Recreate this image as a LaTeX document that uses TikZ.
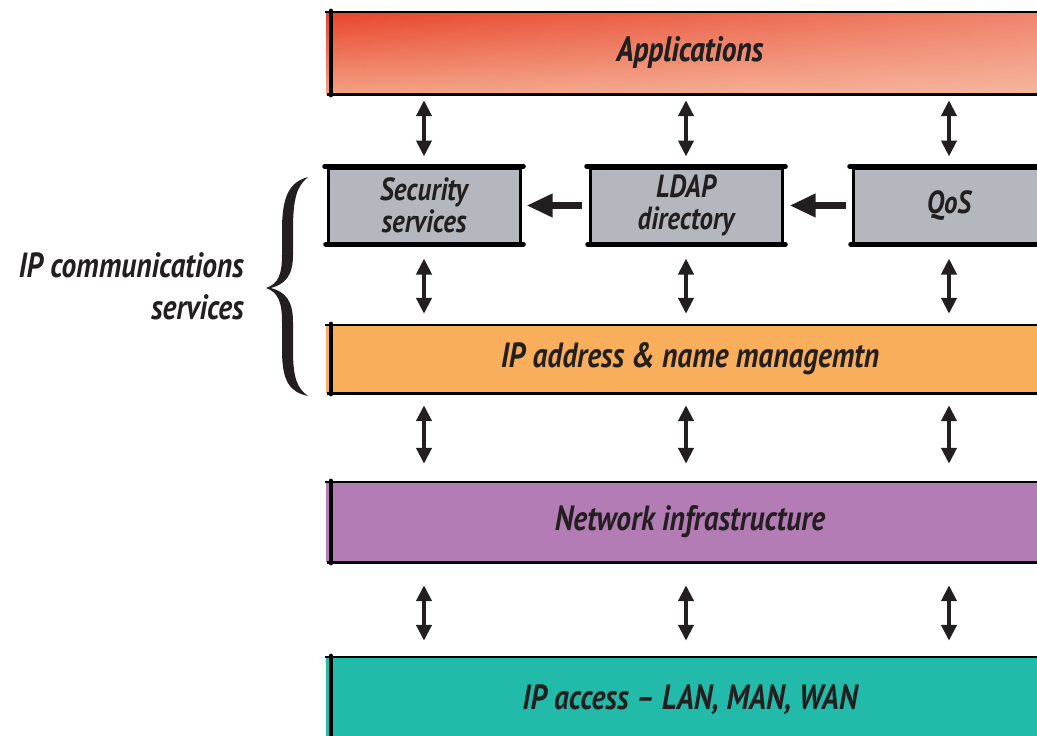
\documentclass[tikz,border=0pt]{standalone}
\usepackage{fontspec}
\usetikzlibrary{arrows.meta,fadings}
\newfontfamily\hand{PT Sans}[FakeStretch=0.84]
\definecolor{ink}{HTML}{231F20}
\definecolor{appA}{HTML}{E8452B}
\definecolor{appB}{HTML}{F3A184}
\definecolor{appC}{HTML}{FAD3C0}
\definecolor{greybox}{HTML}{B5B7BF}
\definecolor{ipcol}{HTML}{F8AE5B}
\definecolor{netcol}{HTML}{B37CB5}
\definecolor{acccol}{HTML}{22BBAA}
\begin{document}
\begin{tikzpicture}[x=1pt,y=-1pt,
  every node/.style={text=ink, inner sep=0pt},
  band/.style={minimum width=728pt, font=\hand\bfseries\itshape\fontsize{35}{40}\selectfont},
  svcbox/.style={fill=greybox, draw=black, line width=3pt, minimum width=192pt,
    minimum height=75pt, align=center, font=\hand\bfseries\itshape\fontsize{32}{32}\selectfont},
  varrow/.style={draw=ink, line width=4pt,
    {Triangle[length=16pt,width=15pt]}-{Triangle[length=16pt,width=15pt]}},
  harrow/.style={draw=ink, line width=6.5pt, -{Triangle[length=26pt,width=22pt]}},
  rim/.style={draw=black, line width=2.6pt},
  lid/.style={draw=black, line width=4.5pt, line cap=round},
  spine/.style={draw=black, line width=4.5pt, line cap=round},
]
\clip (0,0) rectangle (1037,736);

% layers of the stack
\node[band, minimum height=82pt, top color=appA, bottom color=appB] (apps) at (690,53) {Applications};
\fill[appC, fill opacity=.45, path fading=west] (apps.north west) rectangle (apps.south east);
\node[band, minimum height=82pt] at (apps.center) {Applications};

\node[band, minimum height=68pt, fill=ipcol] (ipaddr) at (690,359) {IP address \& name managemtn};
\node[band, minimum height=80pt, fill=netcol] (net) at (690,522) {Network infrastructure};
\node[band, minimum height=86pt, fill=acccol] (access) at (690,700) {IP access \textendash\ LAN, MAN, WAN};

% hand-drawn edges of the layers
\foreach \b in {apps,ipaddr,net,access} {
  \draw[rim] ([xshift=-1pt]\b.north west) -- (\b.north east);
  \draw[rim] ([xshift=1pt]\b.south west) -- (\b.south east);
  \draw[spine] ([xshift=5pt,yshift=1pt]\b.north west) -- ([xshift=5pt,yshift=-1pt]\b.south west);
}

% service boxes
\node[svcbox] (sec) at (424,205.5) {Security\\services};
\node[svcbox] (ldap) at (686,205.5) {LDAP\\directory};
\node[svcbox] (qos) at (949,205.5) {QoS};
\foreach \b in {sec,ldap,qos} {
  \draw[lid] ([xshift=-2pt]\b.north west) -- ([xshift=2pt]\b.north east);
  \draw[lid] ([xshift=-1pt]\b.south west) -- ([xshift=2pt]\b.south east);
}

% lookups between services
\draw[harrow, shorten <=7pt, shorten >=5pt] (ldap.west) -- (sec.east);
\draw[harrow, shorten <=6pt, shorten >=6pt] (qos.west) -- (ldap.east);

% exchanges between layers
\foreach \b in {sec,ldap,qos} {
  \draw[varrow, shorten <=6pt, shorten >=10pt] (apps.south -| \b) -- (\b.north);
  \draw[varrow, shorten <=14pt, shorten >=11pt] (\b.south) -- (ipaddr.north -| \b);
  \draw[varrow, shorten <=12pt, shorten >=18pt] (ipaddr.south -| \b) -- (net.north -| \b);
  \draw[varrow, shorten <=23pt, shorten >=16pt] (net.south -| \b) -- (access.north -| \b);
}

% grouping brace and its label
\fill[ink] (308,177) .. controls (290,182) and (282,195) .. (282,230)
  -- (282,255) .. controls (282,275) and (278,284) .. (266,288)
  .. controls (278,292) and (282,302) .. (282,322)
  -- (282,350) .. controls (282,382) and (290,392) .. (308,396)
  .. controls (297,388) and (293,378) .. (293,350)
  -- (293,322) .. controls (293,300) and (285,292) .. (271,288)
  .. controls (285,284) and (293,276) .. (293,255)
  -- (293,230) .. controls (293,198) and (297,186) .. (308,177) -- cycle;
\node[anchor=east, align=right, font=\hand\bfseries\itshape\fontsize{35}{42}\selectfont] (group) at (244,286)
  {IP communications\\services};
\end{tikzpicture}
\end{document}
